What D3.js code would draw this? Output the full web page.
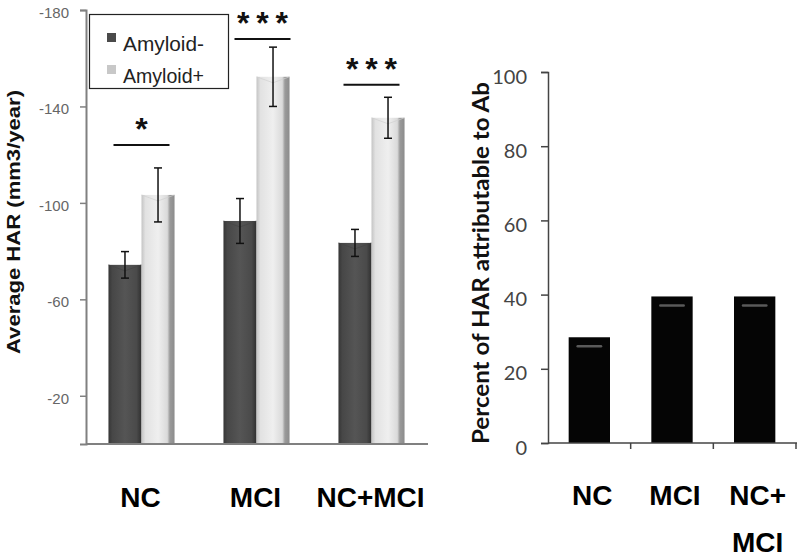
<!DOCTYPE html>
<html>
<head>
<meta charset="utf-8">
<script src="https://cdn.jsdelivr.net/npm/d3@7"></script>
<style>
  html, body { margin: 0; padding: 0; background: #fff; }
  svg { display: block; }
</style>
</head>
<body>
<svg id="chart" width="800" height="559"></svg>
<script>
// ---------- DATA ----------
const categories = ["NC", "MCI", "NC+MCI"];
const series = ["Amyloid-", "Amyloid+"];
const amyloidNeg = [-74.3, -92.5, -83.4];
const amyloidPos = [-103.3, -152.3, -135.3];
const errNeg = [5.5, 9.3, 5.6];
const errPos = [11.2, 12.3, 8.5];
const sigLabels = ["*", "* * *", "* * *"];
const sigLevels = [-124, -168, -149];
const sigOffsets = [0, 6, 0];
const leftTicks = [-20, -60, -100, -140, -180];

const rightCategories = ["NC", "MCI", "NC+MCI"];
const rightLabelLines = [["NC"], ["MCI"], ["NC+", "MCI"]];
const percentAb = [28.5, 39.5, 39.5];
const rightTicks = [0, 20, 40, 60, 80, 100];

// ---------- SETUP ----------
const svg = d3.select("#chart");
const defs = svg.append("defs");

function hGrad(id, stops) {
  const g = defs.append("linearGradient").attr("id", id)
    .attr("x1", "0%").attr("x2", "100%").attr("y1", "0%").attr("y2", "0%");
  stops.forEach(s => g.append("stop").attr("offset", s[0]).attr("stop-color", s[1]));
}
hGrad("gNeg", [["0%", "#363636"], ["12%", "#474747"], ["50%", "#555"], ["85%", "#4a4a4a"], ["100%", "#303030"]]);
hGrad("gPos", [["0%", "#c4c4c4"], ["12%", "#e2e2e2"], ["50%", "#efefef"], ["78%", "#dadada"], ["86%", "#9a9a9a"], ["100%", "#8c8c8c"]]);

// ---------- LEFT CHART ----------
const yL = d3.scaleLinear().domain([0, -180]).range([444, 10]);
const x0 = d3.scaleBand().domain(categories).range([84, 429]);
const x1 = d3.scaleBand().domain(series).range([0, x0.bandwidth()]).paddingOuter(0.74);

const left = svg.append("g");

const seriesVals = { "Amyloid-": amyloidNeg, "Amyloid+": amyloidPos };
const seriesErr = { "Amyloid-": errNeg, "Amyloid+": errPos };
const seriesFill = { "Amyloid-": "url(#gNeg)", "Amyloid+": "url(#gPos)" };

categories.forEach((c, i) => {
  series.forEach(s => {
    const v = seriesVals[s][i];
    const bx = x0(c) + x1(s);
    const bw = x1.bandwidth();
    left.append("rect")
      .attr("x", bx).attr("y", yL(v))
      .attr("width", bw).attr("height", yL(0) - yL(v))
      .attr("fill", seriesFill[s]);
    const topC = s === "Amyloid+" ? "#d0d0d0" : "#444";
    left.append("path")
      .attr("d", `M${bx},${yL(v)} L${bx + bw / 2},${yL(v) + 6} L${bx + bw},${yL(v)}`)
      .attr("fill", "none").attr("stroke", topC).attr("stroke-width", 1).attr("opacity", 0.7);
  });
});

// error bars
categories.forEach((c, i) => {
  series.forEach(s => {
    const v = seriesVals[s][i];
    const e = seriesErr[s][i];
    const cx = x0(c) + x1(s) + x1.bandwidth() / 2;
    const g = left.append("g").attr("stroke", "#111").attr("stroke-width", 1.5);
    g.append("line").attr("x1", cx).attr("x2", cx).attr("y1", yL(v - e)).attr("y2", yL(v + e));
    g.append("line").attr("x1", cx - 4).attr("x2", cx + 4).attr("y1", yL(v - e)).attr("y2", yL(v - e));
    g.append("line").attr("x1", cx - 4).attr("x2", cx + 4).attr("y1", yL(v + e)).attr("y2", yL(v + e));
  });
});

// significance
categories.forEach((c, i) => {
  const cx = x0(c) + x0.bandwidth() / 2 + sigOffsets[i];
  left.append("line")
    .attr("x1", cx - 28).attr("x2", cx + 28)
    .attr("y1", yL(sigLevels[i])).attr("y2", yL(sigLevels[i]))
    .attr("stroke", "#111").attr("stroke-width", 2);
  const t = left.append("text")
    .attr("x", cx).attr("y", yL(sigLevels[i]) - 5)
    .attr("text-anchor", "middle")
    .attr("font-family", "Liberation Sans, Arial, sans-serif")
    .attr("font-weight", "bold")
    .attr("font-size", 32).attr("fill", "#111")
    .text(sigLabels[i]);
  if (sigLabels[i].length > 1) t.attr("textLength", 51).attr("lengthAdjust", "spacing");
});

// axes
const yAxisL = d3.axisLeft(yL).tickValues(leftTicks).tickSize(6).tickPadding(11).tickFormat(d => String(d));
const gyL = left.append("g").attr("transform", "translate(86,0)").call(yAxisL);
gyL.select(".domain").attr("stroke", "#808080").attr("stroke-width", 2);
gyL.selectAll(".tick line").attr("stroke", "#808080").attr("stroke-width", 1.5);
gyL.selectAll(".tick text")
  .attr("font-family", "Liberation Sans, Arial, sans-serif")
  .attr("font-size", 15).attr("fill", "#666").attr("dy", "0.5em");

left.append("line")
  .attr("x1", 86).attr("x2", 428).attr("y1", yL(0)).attr("y2", yL(0))
  .attr("stroke", "#808080").attr("stroke-width", 2);

// x labels
categories.forEach(c => {
  left.append("text")
    .attr("x", x0(c) + x0.bandwidth() / 2 - 1).attr("y", 507)
    .attr("text-anchor", "middle")
    .attr("font-family", "Liberation Sans, Arial, sans-serif")
    .attr("font-weight", "bold").attr("font-size", 28).attr("fill", "#000")
    .text(c);
});

// y title
left.append("text")
  .attr("transform", "translate(20,222) rotate(-90)")
  .attr("text-anchor", "middle")
  .attr("font-family", "Liberation Sans, Arial, sans-serif")
  .attr("font-weight", "bold").attr("font-size", 18).attr("fill", "#111")
  .attr("textLength", 264).attr("lengthAdjust", "spacingAndGlyphs")
  .text("Average HAR (mm3/year)");

// legend
const lg = left.append("g");
lg.append("rect").attr("x", 89.5).attr("y", 14.5).attr("width", 139).attr("height", 74)
  .attr("fill", "#fff").attr("stroke", "#222").attr("stroke-width", 1.2);
const legFill = { "Amyloid-": "#4a4a4a", "Amyloid+": "#c8c8c8" };
series.forEach((s, i) => {
  const yy = 33 + i * 32;
  lg.append("rect").attr("x", 107).attr("y", yy).attr("width", 9).attr("height", 9).attr("fill", legFill[s]);
  lg.append("text").attr("x", 123).attr("y", yy + 18)
    .attr("font-family", "Liberation Sans, Arial, sans-serif")
    .attr("font-size", 21).attr("fill", "#222")
    .attr("textLength", 81).attr("lengthAdjust", "spacingAndGlyphs")
    .text(s);
});

// ---------- RIGHT CHART ----------
const yR = d3.scaleLinear().domain([0, 100]).range([443, 72]);
const xR = d3.scaleBand().domain(rightCategories).range([548, 796]).paddingInner(0.5).paddingOuter(0.25);
const right = svg.append("g");

rightCategories.forEach((c, i) => {
  const bx = xR(c), bw = xR.bandwidth(), v = percentAb[i];
  right.append("rect").attr("x", bx).attr("y", yR(v))
    .attr("width", bw).attr("height", yR(0) - yR(v)).attr("fill", "#050505");
  right.append("line")
    .attr("x1", bx + 9).attr("x2", bx + bw - 9)
    .attr("y1", yR(v) + 9).attr("y2", yR(v) + 9)
    .attr("stroke", "#5a5a5a").attr("stroke-width", 2.5).attr("stroke-linecap", "round");
});

const yAxisR = d3.axisLeft(yR).tickValues(rightTicks).tickSize(7).tickPadding(14);
const gyR = right.append("g").attr("transform", "translate(548,0)").call(yAxisR);
gyR.select(".domain").attr("stroke", "#444").attr("stroke-width", 1.5);
gyR.selectAll(".tick line").attr("stroke", "#444").attr("stroke-width", 1.5);
gyR.selectAll(".tick text")
  .attr("font-family", "Lato, Open Sans, sans-serif")
  .attr("font-size", 20).attr("fill", "#444").attr("dy", "0.55em");

const xBounds = rightCategories.map(c => xR(c) - xR.step() * xR.paddingInner() / 2).concat([796]);
right.append("line").attr("x1", 548).attr("x2", 797).attr("y1", yR(0)).attr("y2", yR(0))
  .attr("stroke", "#444").attr("stroke-width", 1.5);
xBounds.slice(1).forEach(xb => {
  right.append("line").attr("x1", xb).attr("x2", xb).attr("y1", yR(0)).attr("y2", yR(0) + 6)
    .attr("stroke", "#444").attr("stroke-width", 1.5);
});

rightCategories.forEach((c, i) => {
  const t = right.append("text")
    .attr("text-anchor", "middle")
    .attr("font-family", "Liberation Sans, Arial, sans-serif")
    .attr("font-weight", "bold").attr("font-size", 28).attr("fill", "#000");
  rightLabelLines[i].forEach((ln, k) => {
    t.append("tspan").attr("x", xR(c) + xR.bandwidth() / 2 + 3).attr("y", 505 + k * 47).text(ln);
  });
});

right.append("text")
  .attr("transform", "translate(489,263) rotate(-90)")
  .attr("text-anchor", "middle")
  .attr("font-family", "Lato, Open Sans, sans-serif")
  .attr("font-weight", "bold").attr("font-size", 22).attr("fill", "#111")
  .attr("textLength", 362).attr("lengthAdjust", "spacingAndGlyphs")
  .text("Percent of HAR attributable to Ab");
</script>
</body>
</html>
